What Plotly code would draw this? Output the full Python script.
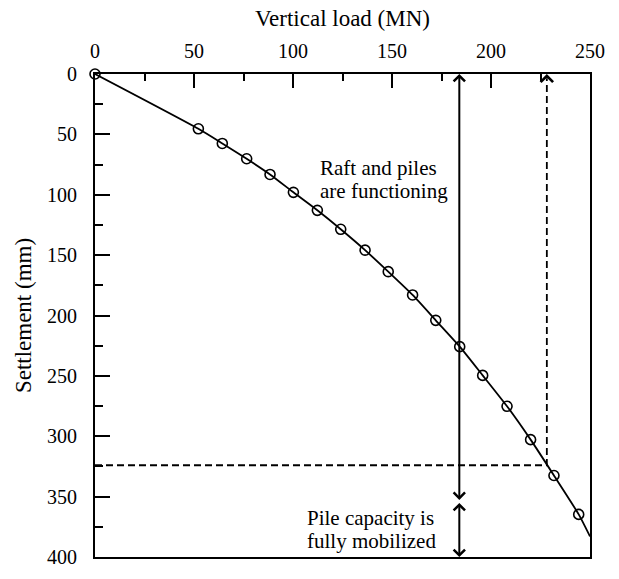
import plotly.graph_objects as go

# ---- data ----
load_mn = [0, 52.2, 64.3, 76.6, 88.4, 100.2, 112.3, 124.1, 136.4, 148.1,
           160.4, 172.1, 184.2, 195.8, 208.1, 220.0, 231.8, 244.3]
settlement_mm = [0, 45.4, 57.5, 70.2, 83.2, 98.0, 112.9, 128.6, 145.9, 163.7,
                 183.0, 204.0, 225.8, 249.6, 275.2, 302.8, 332.5, 364.7]
curve_end_load = 250.0
curve_end_settlement = 383.0

pa_load = 228.2          # P_A
pa_settlement = 324.0    # settlement at P_A
pile_load = 184.0        # load where piles become fully mobilized
split_settlement = 354.0 # split between the two arrow regions

x_ticks = [0, 50, 100, 150, 200, 250]
y_ticks = [0, 50, 100, 150, 200, 250, 300, 350, 400]

FONT = "Liberation Serif, Times New Roman, serif"

fig = go.Figure()

# fitted curve
fig.add_trace(go.Scatter(
    x=load_mn + [curve_end_load], y=settlement_mm + [curve_end_settlement],
    mode="lines", line=dict(color="black", width=1.8, shape="spline", smoothing=0.6),
    hoverinfo="skip", showlegend=False))

# measured points
fig.add_trace(go.Scatter(
    x=load_mn, y=settlement_mm, mode="markers",
    marker=dict(symbol="circle-open", size=10, color="black", line=dict(width=1.6)),
    showlegend=False, cliponaxis=False))

# dashed construction lines for P_A
fig.add_trace(go.Scatter(
    x=[0, pa_load, pa_load], y=[pa_settlement, pa_settlement, 4],
    mode="lines", line=dict(color="black", width=1.8, dash="7px,4px"),
    hoverinfo="skip", showlegend=False))

annotations = []
# dashed arrow head at top
annotations.append(dict(x=pa_load, y=0, ax=pa_load, ay=5, xref="x", yref="y",
                        axref="x", ayref="y", text="", showarrow=True,
                        arrowhead=4, arrowsize=1.2, arrowwidth=2, arrowcolor="black",
                        standoff=0, startstandoff=0))
# solid double arrow (raft and piles functioning)
annotations.append(dict(x=pile_load, y=0, ax=pile_load, ay=split_settlement,
                        xref="x", yref="y", axref="x", ayref="y", text="",
                        showarrow=True, arrowside="end+start", arrowhead=4,
                        startarrowhead=4, arrowsize=1.1, startarrowsize=1.1,
                        arrowwidth=2, arrowcolor="black", standoff=0, startstandoff=0))
# solid double arrow (pile capacity fully mobilized)
annotations.append(dict(x=pile_load, y=400, ax=pile_load, ay=split_settlement,
                        xref="x", yref="y", axref="x", ayref="y", text="",
                        showarrow=True, arrowside="end+start", arrowhead=4,
                        startarrowhead=4, arrowsize=1.1, startarrowsize=1.1,
                        arrowwidth=2, arrowcolor="black", standoff=0, startstandoff=0))

text_font = dict(family=FONT, size=21, color="black")
for txt, yv in [("Raft and piles", 78), ("are functioning", 96.5)]:
    annotations.append(dict(x=112.6, y=yv, xref="x", yref="y", text=txt,
                            showarrow=False, xanchor="left", yanchor="middle",
                            font=text_font))
for txt, yv in [("Pile capacity is", 367.5), ("fully mobilized", 386.5)]:
    annotations.append(dict(x=106, y=yv, xref="x", yref="y", text=txt,
                            showarrow=False, xanchor="left", yanchor="middle",
                            font=text_font))
annotations.append(dict(x=229.8, y=-13, xref="x", yref="y",
                        text="<i>P</i><sub><i>A</i></sub>", showarrow=False,
                        xanchor="center", yanchor="middle", font=text_font))

fig.update_layout(
    width=619, height=579,
    margin=dict(l=95, r=29, t=74, b=11),
    paper_bgcolor="white", plot_bgcolor="white",
    font=dict(family=FONT, size=20, color="black"),
    annotations=annotations,
    xaxis=dict(
        side="top", range=[0, 250], tickvals=x_ticks, ticktext=[str(v) for v in x_ticks],
        ticks="inside", ticklen=14, tickwidth=2, tickcolor="black",
        minor=dict(dtick=25, tick0=0, ticks="inside", ticklen=7, tickwidth=2, tickcolor="black"),
        showline=True, linewidth=2, linecolor="black", mirror=True,
        showgrid=False, zeroline=False,
        tickfont=dict(family=FONT, size=20), ticklabelstandoff=6,
        title=dict(text="Vertical load (MN)", font=dict(family=FONT, size=23), standoff=7),
    ),
    yaxis=dict(
        range=[400, 0], tickvals=y_ticks, ticktext=[str(v) for v in y_ticks],
        ticks="inside", ticklen=15, tickwidth=2, tickcolor="black",
        minor=dict(dtick=25, tick0=0, ticks="inside", ticklen=8, tickwidth=2, tickcolor="black"),
        showline=True, linewidth=2, linecolor="black", mirror=True,
        showgrid=False, zeroline=False,
        tickfont=dict(family=FONT, size=20), ticklabelstandoff=12,
        title=dict(text="Settlement (mm)", font=dict(family=FONT, size=23), standoff=9),
    ),
)

fig.write_html("out.html")
